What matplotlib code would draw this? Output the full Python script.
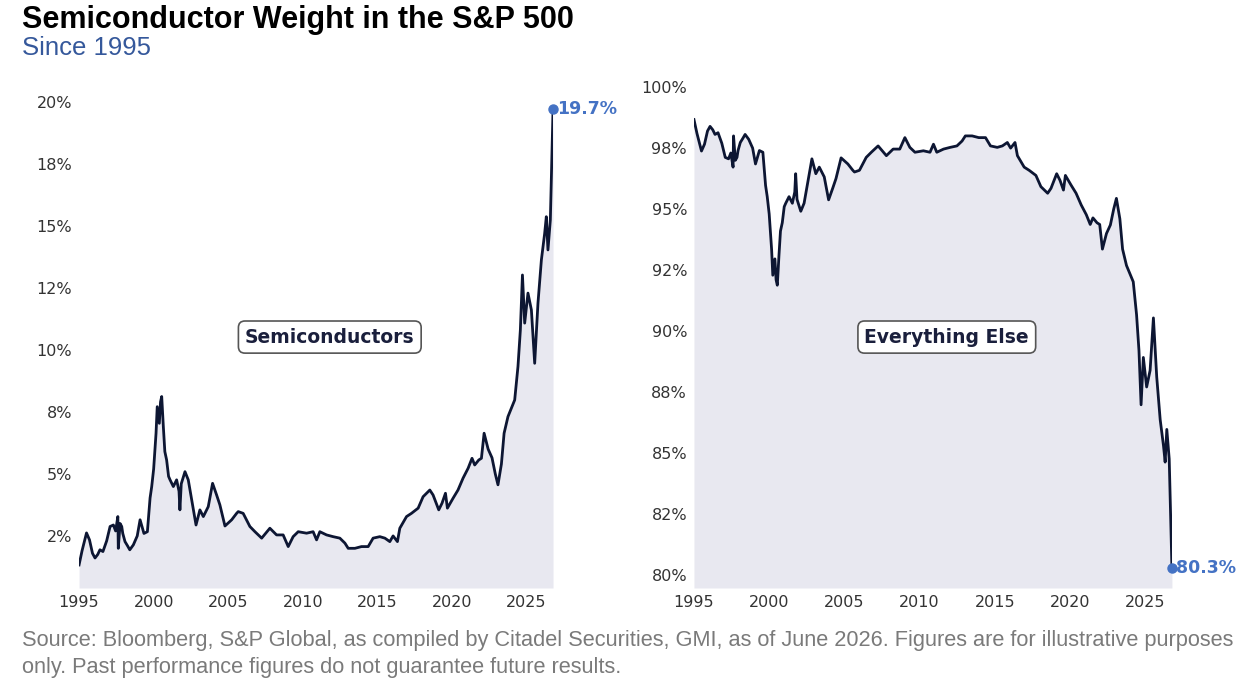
import numpy as np
import matplotlib.pyplot as plt

# ── data (semiconductor weight, % of S&P 500)
years = [1995.0, 1995.2, 1995.5, 1995.7, 1995.9, 1996.07, 1996.25, 1996.4, 1996.6, 1996.85,
         1997.08, 1997.3, 1997.45, 1997.6, 1997.63, 1997.75, 1997.86, 1997.93, 1998.08, 1998.25,
         1998.4, 1998.64, 1998.9, 1999.09, 1999.35, 1999.58, 1999.76, 1999.87, 2000.0, 2000.16,
         2000.24, 2000.38, 2000.46, 2000.54, 2000.65, 2000.75, 2000.87, 2001.0, 2001.1, 2001.32,
         2001.54, 2001.7, 2001.76, 2001.85, 2002.1, 2002.32, 2002.55, 2002.84, 2003.1, 2003.33,
         2003.66, 2003.95, 2004.22, 2004.44, 2004.78, 2005.11, 2005.23, 2005.56, 2005.67, 2006.0,
         2006.45, 2006.79, 2007.24, 2007.5, 2007.79, 2008.24, 2008.68, 2009.02, 2009.35, 2009.69,
         2010.25, 2010.69, 2010.92, 2011.14, 2011.59, 2012.03, 2012.48, 2012.82, 2013.04, 2013.49,
         2013.93, 2014.38, 2014.71, 2015.16, 2015.5, 2015.83, 2016.05, 2016.34, 2016.5, 2016.95,
         2017.28, 2017.73, 2018.06, 2018.51, 2018.73, 2019.11, 2019.33, 2019.56, 2019.69, 2020.07,
         2020.4, 2020.74, 2021.08, 2021.34, 2021.52, 2021.79, 2021.97, 2022.15, 2022.42, 2022.68,
         2022.9, 2023.08, 2023.31, 2023.49, 2023.75, 2023.98, 2024.2, 2024.42, 2024.58, 2024.72,
         2024.87, 2025.09, 2025.32, 2025.54, 2025.76, 2025.99, 2026.21, 2026.32, 2026.43, 2026.59,
         2026.77]
semis = [1.33, 1.9, 2.62, 2.34, 1.8, 1.61, 1.75, 1.94, 1.87, 2.3,
         2.88, 2.94, 2.7, 3.28, 2.0, 3.0, 2.88, 2.6, 2.27, 2.1,
         1.94, 2.14, 2.5, 3.15, 2.6, 2.67, 4.03, 4.49, 5.2, 6.64,
         7.71, 7.04, 7.9, 8.12, 6.9, 5.9, 5.56, 4.9, 4.76, 4.49,
         4.76, 4.3, 3.55, 4.6, 5.09, 4.76, 3.95, 2.94, 3.55, 3.28,
         3.68, 4.62, 4.15, 3.75, 2.9, 3.08, 3.15, 3.41, 3.48, 3.41,
         2.88, 2.67, 2.41, 2.6, 2.81, 2.54, 2.54, 2.07, 2.47, 2.67,
         2.61, 2.67, 2.34, 2.67, 2.54, 2.47, 2.41, 2.21, 2.0, 2.0,
         2.07, 2.07, 2.41, 2.47, 2.41, 2.27, 2.5, 2.27, 2.81, 3.28,
         3.41, 3.62, 4.08, 4.35, 4.15, 3.55, 3.82, 4.22, 3.62, 4.02,
         4.35, 4.83, 5.23, 5.63, 5.36, 5.56, 5.63, 6.64, 6.0, 5.65,
         5.0, 4.56, 5.4, 6.64, 7.31, 7.65, 7.98, 9.33, 10.8, 13.02,
         11.08, 12.29, 11.61, 9.46, 11.88, 13.63, 14.7, 15.37, 14.03, 15.24,
         19.7]
everything_else = 100 - np.array(semis)

x_ticks = [1995, 2000, 2005, 2010, 2015, 2020, 2025]
left_ticks = [2.5, 5, 7.5, 10, 12.5, 15, 17.5, 20]
left_labels = ['2%', '5%', '8%', '10%', '12%', '15%', '18%', '20%']
right_ticks = [80, 82.5, 85, 87.5, 90, 92.5, 95, 97.5, 100]
right_labels = ['80%', '82%', '85%', '88%', '90%', '92%', '95%', '98%', '100%']

LINE = '#0d1633'
FILL = '#e8e8f0'
BLUE = '#4472c4'

fig = plt.figure(figsize=(12.45, 6.87), dpi=100)
ax1 = fig.add_axes([0.0635, 0.1441, 0.3807, 0.7394])
ax2 = fig.add_axes([0.5574, 0.1441, 0.3839, 0.7394])

panels = [
    (ax1, semis, (0.40, 20.88), left_ticks, left_labels, 'Semiconductors', '19.7%'),
    (ax2, everything_else, (79.47, 100.29), right_ticks, right_labels, 'Everything Else', '80.3%'),
]
for ax, vals, ylim, yt, yl, name, end_label in panels:
    ax.fill_between(years, ylim[0], vals, color=FILL, lw=0)
    ax.plot(years, vals, color=LINE, lw=2.0, solid_joinstyle='round')
    ax.plot(years[-1], vals[-1], 'o', color=BLUE, ms=6.5, clip_on=False, zorder=5)
    ax.annotate(end_label, (years[-1], vals[-1]), xytext=(3, 0), textcoords='offset points',
                va='center', ha='left', color=BLUE, fontsize=12.5, fontweight='bold',
                annotation_clip=False)
    ax.set_xlim(years[0], years[-1])
    ax.set_ylim(*ylim)
    ax.set_xticks(x_ticks)
    ax.set_yticks(yt)
    ax.set_yticklabels(yl)
    ax.tick_params(length=0, labelsize=11.5, labelcolor='#333333')
    ax.tick_params(axis='y', pad=5)
    ax.tick_params(axis='x', pad=5)
    for s in ax.spines.values():
        s.set_visible(False)
    ax.text(0.529, 0.494, name, transform=ax.transAxes, ha='center', va='center',
            fontsize=13.5, fontweight='bold', color='#1a1f3c',
            bbox=dict(boxstyle='round,pad=0.35', fc='white', ec='#555555', lw=1.2))

fig.text(0.018, 0.992, 'Semiconductor Weight in the S&P 500', ha='left', va='top',
         fontsize=22, fontweight='bold', family='Liberation Sans', color='black')
fig.text(0.018, 0.947, 'Since 1995', ha='left', va='top',
         fontsize=18.5, family='Liberation Sans', color='#35589b')

fig.text(0.018, 0.068, 'Source: Bloomberg, S&P Global, as compiled by Citadel Securities, GMI, '
         'as of June 2026. Figures are for illustrative purposes', ha='left', va='center',
         fontsize=15.7, family='Liberation Sans', color='#7a7a7a')
fig.text(0.018, 0.029, 'only. Past performance figures do not guarantee future results.',
         ha='left', va='center', fontsize=15.7, family='Liberation Sans', color='#7a7a7a')

fig.savefig('out.png', dpi=100)
